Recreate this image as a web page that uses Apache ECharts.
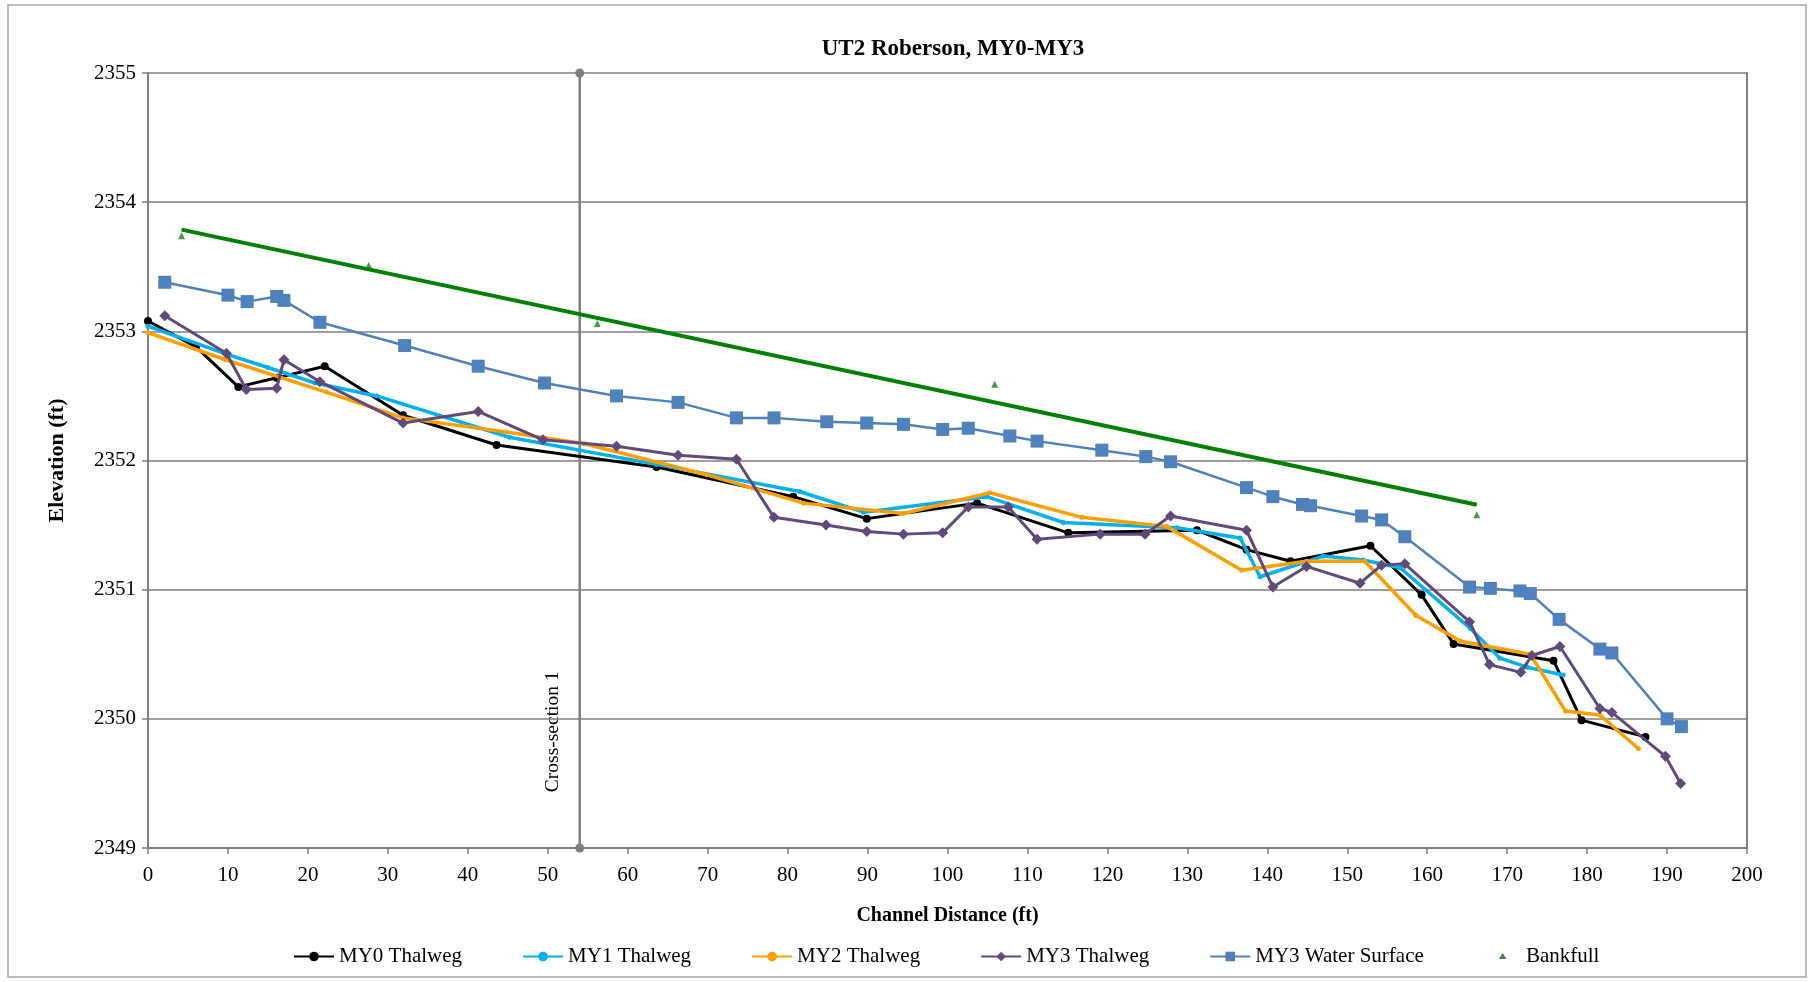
<!DOCTYPE html>
<html>
<head>
<meta charset="utf-8">
<script src="https://cdn.jsdelivr.net/npm/echarts@6/dist/echarts.min.js"></script>
<style>
html,body{margin:0;padding:0;background:#fff;}
#chart{width:1815px;height:982px;}
</style>
</head>
<body>
<div id="chart"></div>
<script>
// ---- data (x = channel distance ft, y = elevation ft) ----
const titleText = 'UT2 Roberson, MY0-MY3';
const xTicks = {min: 0, max: 200, interval: 10};
const yTicks = {min: 2349, max: 2355, interval: 1};

const my0Thalweg = [[0,2353.08],[6,2352.88],[11.3,2352.57],[16.1,2352.64],[22.1,2352.73],[31.9,2352.35],[43.6,2352.12],[63.6,2351.95],[80.7,2351.72],[89.9,2351.55],[103.7,2351.67],[115.1,2351.44],[131.2,2351.46],[137.4,2351.31],[142.9,2351.22],[152.9,2351.34],[159.3,2350.96],[163.3,2350.58],[175.8,2350.45],[179.3,2349.99],[187.3,2349.86]];
const my1Thalweg = [[0,2353.04],[10,2352.82],[15,2352.72],[20.9,2352.6],[28.6,2352.5],[45.2,2352.18],[63.6,2351.97],[81.5,2351.76],[89.5,2351.6],[104.9,2351.72],[114.5,2351.52],[128.7,2351.48],[136.6,2351.4],[139.1,2351.1],[147,2351.26],[152,2351.23],[156.6,2351.17],[165.4,2350.7],[169.1,2350.47],[172.5,2350.4],[177,2350.34]];
const my2Thalweg = [[0,2352.99],[9.7,2352.78],[22.3,2352.53],[31.9,2352.33],[44.8,2352.22],[54.6,2352.13],[69.9,2351.89],[82,2351.67],[94.5,2351.59],[105.3,2351.75],[116.8,2351.56],[127.4,2351.49],[136.8,2351.15],[144.9,2351.22],[152.2,2351.22],[158.6,2350.8],[164.2,2350.6],[172.9,2350.5],[177.3,2350.06],[181.6,2350.03],[186.4,2349.77]];
const my3Thalweg = [[2.1,2353.12],[9.8,2352.83],[12.3,2352.55],[16.1,2352.56],[17,2352.78],[21.5,2352.61],[31.9,2352.29],[41.3,2352.38],[49.4,2352.16],[58.6,2352.11],[66.3,2352.04],[73.6,2352.01],[78.3,2351.56],[84.8,2351.5],[89.9,2351.45],[94.5,2351.43],[99.4,2351.44],[102.6,2351.64],[107.6,2351.64],[111.2,2351.39],[119.1,2351.43],[124.7,2351.43],[127.9,2351.57],[137.4,2351.46],[140.7,2351.02],[144.9,2351.18],[151.6,2351.05],[154.3,2351.19],[157.2,2351.2],[165.3,2350.75],[167.8,2350.42],[171.7,2350.36],[173.1,2350.49],[176.6,2350.56],[181.6,2350.08],[183.1,2350.05],[189.8,2349.71],[191.7,2349.5]];
const my3WaterSurface = [[2.1,2353.38],[10,2353.28],[12.4,2353.23],[16.1,2353.27],[17,2353.24],[21.5,2353.07],[32.1,2352.89],[41.3,2352.73],[49.6,2352.6],[58.6,2352.5],[66.3,2352.45],[73.6,2352.33],[78.3,2352.33],[84.9,2352.3],[89.9,2352.29],[94.5,2352.28],[99.4,2352.24],[102.6,2352.25],[107.8,2352.19],[111.2,2352.15],[119.3,2352.08],[124.8,2352.03],[127.9,2351.99],[137.4,2351.79],[140.7,2351.72],[144.4,2351.66],[145.4,2351.65],[151.8,2351.57],[154.3,2351.54],[157.2,2351.41],[165.3,2351.02],[167.9,2351.01],[171.6,2350.99],[172.9,2350.97],[176.5,2350.77],[181.6,2350.54],[183.1,2350.51],[190,2350.0],[191.8,2349.94]];
const bankfull = [[4.2,2353.74],[27.6,2353.51],[56.2,2353.06],[105.9,2352.59],[166.2,2351.58]];
const crossSectionX = 54;
const crossSectionLabel = 'Cross-section 1';
const crossSectionLabelY = 2349.9;

// linear trendline through the bankfull points (least squares)
function trend(pts){
  const n = pts.length;
  let sx=0, sy=0; pts.forEach(p=>{sx+=p[0]; sy+=p[1];});
  const mx=sx/n, my=sy/n;
  let sxy=0, sxx=0; pts.forEach(p=>{sxy+=(p[0]-mx)*(p[1]-my); sxx+=(p[0]-mx)*(p[0]-mx);});
  const b=sxy/sxx, a=my-b*mx;
  const x0=Math.min(...pts.map(p=>p[0])), x1=Math.max(...pts.map(p=>p[0]));
  return [[x0,a+b*x0],[x1,a+b*x1]];
}
const bankfullTrend = trend(bankfull);

const FONT = '"Liberation Serif", "Times New Roman", serif';
const chart = echarts.init(document.getElementById('chart'));
const option = {
  backgroundColor: '#fff',
  animation: false,
  title: {
    text: titleText, left: 948, top: 33, textAlign: 'center',
    textStyle: {fontFamily: FONT, fontWeight: 'bold', fontSize: 23, color: '#000'}
  },
  grid: {left: 148, top: 73, width: 1599, height: 775, containLabel: false},
  legend: {
    left: 288, top: 941, itemGap: 60, itemWidth: 40, itemHeight: 12,
    data: ['MY0 Thalweg','MY1 Thalweg','MY2 Thalweg','MY3 Thalweg','MY3 Water Surface',
      {name: 'Bankfull', icon: 'path://M0,0M40,14M22,3L26.5,10L17.5,10Z', itemStyle: {color: '#1F5F1F'}}],
    textStyle: {fontFamily: FONT, fontSize: 21, color: '#000'}
  },
  xAxis: {
    type: 'value', min: xTicks.min, max: xTicks.max, interval: xTicks.interval,
    name: 'Channel Distance (ft)', nameLocation: 'middle', nameGap: 58,
    nameTextStyle: {fontFamily: FONT, fontWeight: 'bold', fontSize: 20, color: '#000'},
    axisLine: {show: true, onZero: false, lineStyle: {color: '#7f7f7f', width: 2}},
    axisTick: {show: true, length: 6, lineStyle: {color: '#7f7f7f', width: 1.5}},
    axisLabel: {fontFamily: FONT, fontSize: 21, color: '#000', margin: 17},
    splitLine: {show: false}
  },
  yAxis: [{
    type: 'value', min: yTicks.min, max: yTicks.max, interval: yTicks.interval,
    name: 'Elevation (ft)', nameLocation: 'middle', nameGap: 80,
    nameTextStyle: {fontFamily: FONT, fontWeight: 'bold', fontSize: 22, color: '#000'},
    axisLine: {show: true, lineStyle: {color: '#7f7f7f', width: 2}},
    axisTick: {show: true, length: 6, lineStyle: {color: '#7f7f7f', width: 1.5}},
    axisLabel: {fontFamily: FONT, fontSize: 21, color: '#000', margin: 12, formatter: v => String(v)},
    splitLine: {show: true, lineStyle: {color: '#7f7f7f', width: 1.5}}
  },{
    type: 'value', position: 'right', min: yTicks.min, max: yTicks.max, interval: yTicks.interval,
    axisLine: {show: true, lineStyle: {color: '#7f7f7f', width: 2}},
    axisTick: {show: false}, axisLabel: {show: false}, splitLine: {show: false}
  }],
  series: [
    {
      name: 'Cross-section', type: 'line', data: [[crossSectionX, yTicks.min],[crossSectionX, yTicks.max]],
      symbol: 'circle', symbolSize: 9, itemStyle: {color: '#7f7f7f'},
      lineStyle: {color: '#7f7f7f', width: 2.5}, z: 1
    },
    {
      name: 'Bankfull trend', type: 'line', data: bankfullTrend, symbol: 'none',
      lineStyle: {color: '#008000', width: 4}, z: 2
    },
    {
      name: 'MY0 Thalweg', type: 'line', data: my0Thalweg, symbol: 'circle', symbolSize: 8,
      showAllSymbol: true, itemStyle: {color: '#000'}, lineStyle: {color: '#000', width: 3}, z: 3
    },
    {
      name: 'MY1 Thalweg', type: 'line', data: my1Thalweg, symbol: 'circle', symbolSize: 5,
      showAllSymbol: true, itemStyle: {color: '#00B0F0'}, lineStyle: {color: '#00B0F0', width: 3.5}, z: 4
    },
    {
      name: 'MY2 Thalweg', type: 'line', data: my2Thalweg, symbol: 'circle', symbolSize: 5,
      showAllSymbol: true, itemStyle: {color: '#FF9E00'}, lineStyle: {color: '#FF9E00', width: 3.5}, z: 5
    },
    {
      name: 'MY3 Thalweg', type: 'line', data: my3Thalweg, symbol: 'diamond', symbolSize: 11,
      showAllSymbol: true, itemStyle: {color: '#604A7B'}, lineStyle: {color: '#604A7B', width: 3}, z: 6
    },
    {
      name: 'MY3 Water Surface', type: 'line', data: my3WaterSurface, symbol: 'rect', symbolSize: 13,
      showAllSymbol: true, itemStyle: {color: '#4F81BD'}, lineStyle: {color: '#4F81BD', width: 2.5}, z: 7
    },
    {
      name: 'Bankfull', type: 'scatter', data: bankfull, symbol: 'triangle', symbolSize: 7,
      itemStyle: {color: '#1F7A1F'}, z: 8
    }
  ],
  graphic: [{
    type: 'rect', shape: {x: 8, y: 5, width: 1798, height: 972},
    style: {fill: 'none', stroke: '#a6a6a6', lineWidth: 1.5}, silent: true, z: -1
  }]
};
chart.setOption(option);
const lp = chart.convertToPixel({gridIndex: 0}, [crossSectionX, crossSectionLabelY]);
chart.setOption({graphic: [option.graphic[0], {
  type: 'text', x: lp[0] - 27, y: lp[1], rotation: Math.PI / 2,
  style: {text: crossSectionLabel, fontFamily: FONT, fontSize: 19.5, fill: '#000', align: 'center', verticalAlign: 'middle'},
  silent: true
}]});
</script>
</body>
</html>
